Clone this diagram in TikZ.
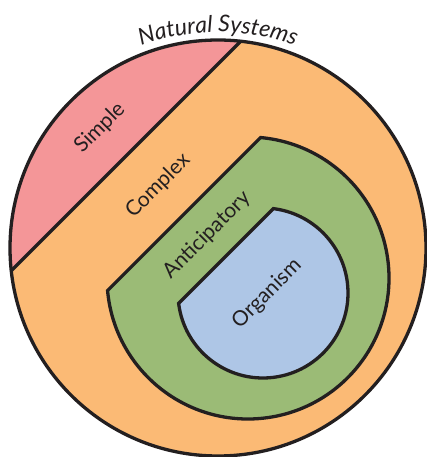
\documentclass[tikz,border=0pt]{standalone}
\usepackage{fontspec}
\setmainfont{Lato}
\usetikzlibrary{calc,decorations.text}

\definecolor{simplepink}{RGB}{244,150,152}
\definecolor{complexorange}{RGB}{251,186,117}
\definecolor{anticipgreen}{RGB}{155,187,118}
\definecolor{organblue}{RGB}{174,198,230}
\definecolor{inkgray}{RGB}{35,31,32}

\begin{document}
\begin{tikzpicture}[x=1pt,y=1pt,
  rim/.style={draw=inkgray,line width=3.3pt},
  lbl/.style={text=inkgray,font=\fontsize{21}{25}\selectfont,rotate=45,inner sep=0pt}]

\useasboundingbox (-218,-209) rectangle (209,248);

\coordinate (c0) at (  0,  0);
\coordinate (c1) at ( 30,-30);
\coordinate (c2) at ( 45,-45);

% outer disc and the simple segment
\fill[complexorange] (c0) circle (208);
\fill[simplepink] (83.7:208) arc (83.7:186.3:208) -- cycle;
\draw[rim] (83.7:208) -- (186.3:208);
\draw[rim] (c0) circle (208);

% anticipatory and organism
\filldraw[rim,fill=anticipgreen] ($(c1)+(185.1:141)$) arc (185.1:444.9:141) -- cycle;
\filldraw[rim,fill=organblue]    ($(c2)+(187.0:85)$)  arc (187.0:443.0:85)  -- cycle;

\node[lbl] (simple)  at (-118,120) {Simple};
\node[lbl] (complex) at ( -60, 62) {Complex};
\node[lbl] (antic)   at ( -11, 13) {Anticipatory};
\node[lbl] (organ)   at (  49,-46) {Organism};

\path[decorate,decoration={text along path,text align=center,
   text={|\color{inkgray}\fontsize{23}{27}\selectfont\itshape|Natural Systems}}]
   (131:216) arc (131:49:216);

\end{tikzpicture}
\end{document}
